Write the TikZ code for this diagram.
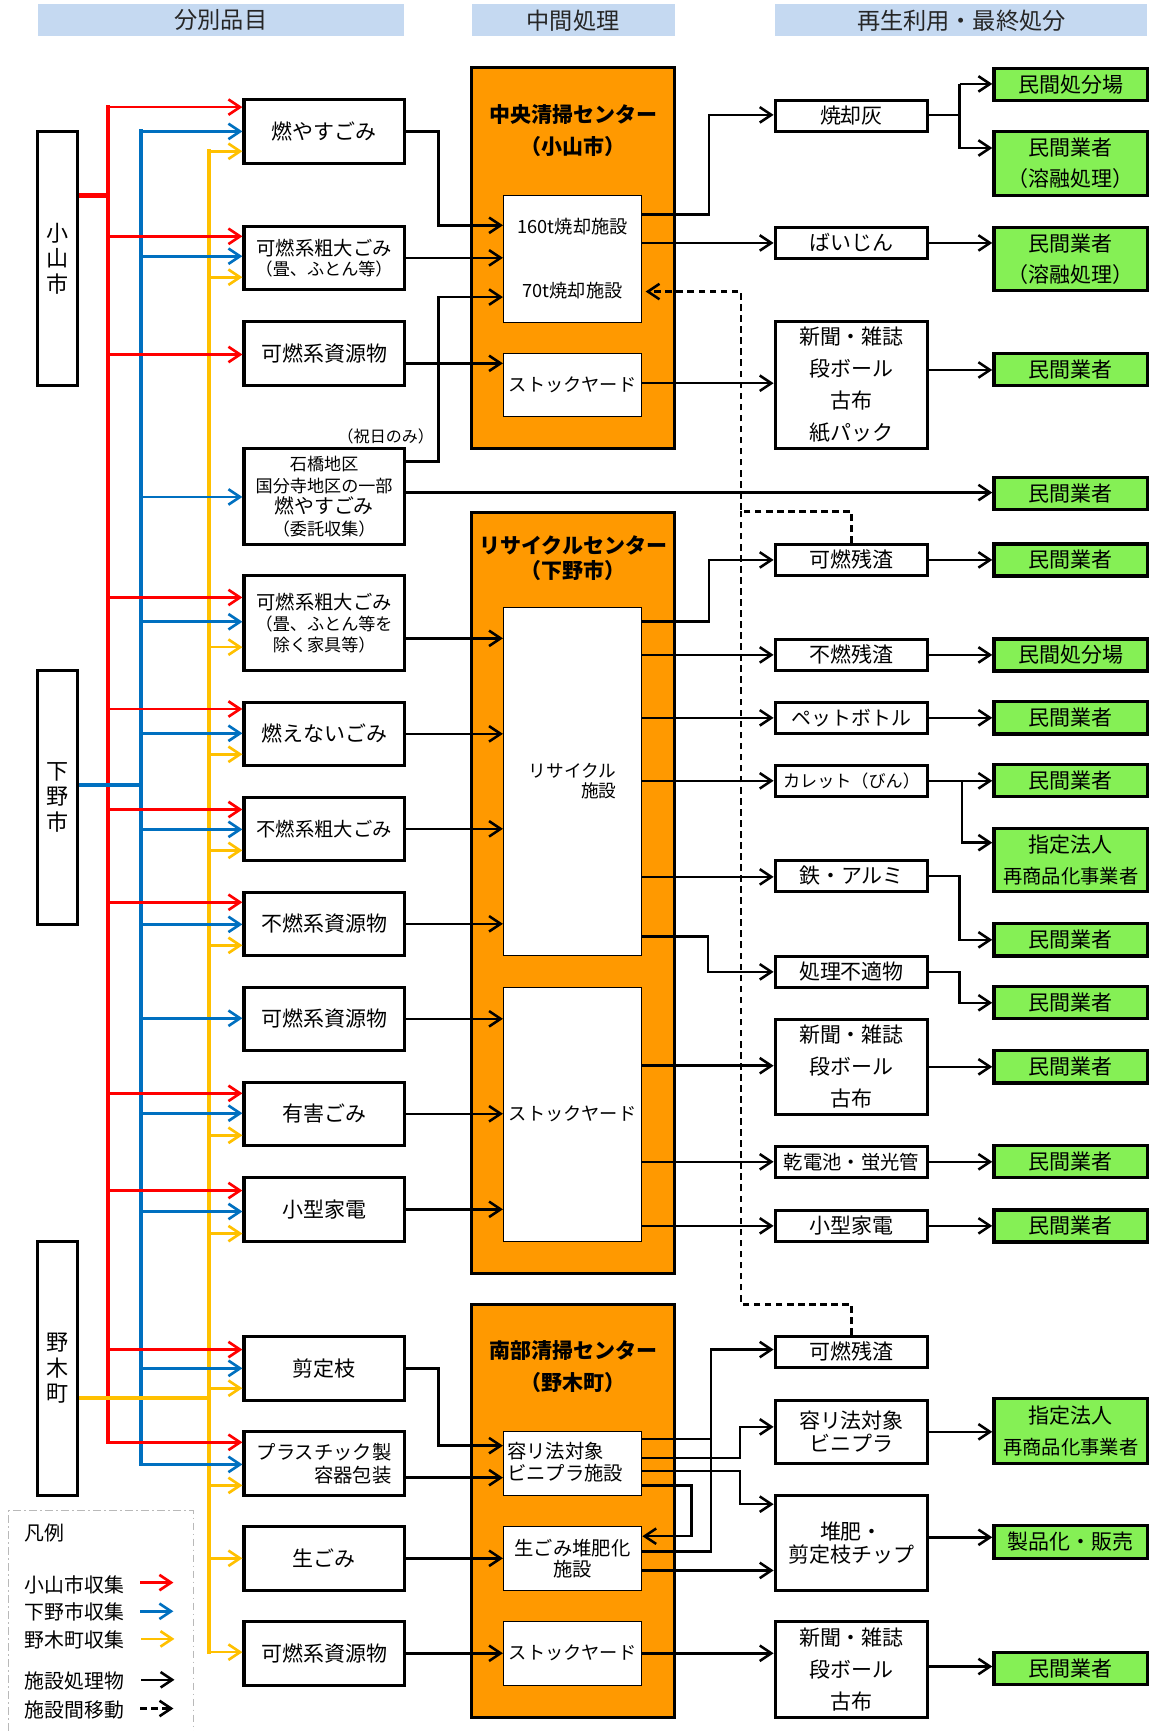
\documentclass[tikz,border=0pt]{standalone}
\usepackage{fontspec}
\setmainfont{Noto Sans CJK JP}
\usetikzlibrary{arrows.meta}
\definecolor{hdr}{RGB}{197,217,241}
\definecolor{org}{RGB}{255,153,0}
\definecolor{grn}{RGB}{133,240,85}
\definecolor{cred}{RGB}{255,0,0}
\definecolor{cblu}{RGB}{0,112,192}
\definecolor{cyel}{RGB}{255,192,0}
\newcommand\fsz[2]{\fontsize{#1}{#2}\selectfont}
\tikzset{
  hdrbox/.style={fill=hdr,minimum height=29,inner sep=0,font=\fsz{21}{24},text=black!85},
  city/.style={draw,line width=3,fill=white,minimum width=36,minimum height=230,inner sep=0,align=center,font=\fsz{20}{23}},
  item/.style={draw,line width=3,fill=white,minimum width=145,minimum height=58,inner sep=0,align=center,font=\fsz{19}{22}},
  orgbox/.style={draw,line width=3,fill=org,minimum width=184,inner sep=0},
  otitle/.style={align=center,inner sep=0,font=\bfseries\fsz{19}{29}},
  fac/.style={draw,line width=1.2,fill=white,minimum width=125,inner sep=0,align=center,font=\fsz{16.5}{20}},
  res/.style={draw,line width=3,fill=white,minimum width=138,minimum height=28,inner sep=0,align=center,font=\fsz{19}{29}},
  gbox/.style={draw,line width=3,fill=grn,minimum width=139,minimum height=29,inner sep=0,align=center,font=\fsz{19}{28}},
  atip/.style={-{Straight Barb[length=10.5pt,width=14pt]}},
  blk/.style={line width=2.3,atip},
  dsh/.style={line width=2.3,dash pattern=on 6pt off 4pt},
  rl/.style={line width=2.4,cred,atip},
  bl/.style={line width=2.4,cblu,atip},
  yl/.style={line width=2.4,cyel,atip},
  busline/.style={line width=3.6,line cap=rect},
  lab/.style={inner sep=0,font=\fsz{18}{20}},
}
\begin{document}
\begin{tikzpicture}[x=1pt,y=-1pt]
\useasboundingbox (0,0) rectangle (1044,1567.4);
% headers
\node[hdrbox,minimum width=332] (h1) at (200,18.5) {分別品目};
\node[hdrbox,minimum width=184] (h2) at (519,18.5) {中間処理};
\node[hdrbox,minimum width=337] (h3) at (870.5,18.5) {再生利用・最終処分};
% cities
\node[city] (c1) at (52,234) {小\\山\\市};
\node[city] (c2) at (52,722) {下\\野\\市};
\node[city] (c3) at (52,1239) {野\\木\\町};
% buses
\coordinate (rT) at (98,97);  \coordinate (rB) at (98,1306);
\coordinate (bT) at (128,119); \coordinate (bB) at (128,1326);
\coordinate (yT) at (189,137); \coordinate (yB) at (189,1496);
\draw[busline,cred] (rT) -- (rB);
\draw[busline,cblu] (bT) -- (bB);
\draw[busline,cyel] (yT) -- (yB);
\draw[line width=4,cred] (c1.east |- 0,177) -- (98,177);
\draw[line width=4,cblu] (c2.east |- 0,711) -- (128,711);
\draw[line width=4,cyel] (c3.east |- 0,1266) -- (189,1266);
% items
\node[item] (i1) at (293.5,119) {燃やすごみ};
\node[item,minimum height=57,font=\fsz{17.5}{18}] (i2) at (293.5,233.5) {可燃系粗大ごみ\\{\fsz{15.5}{18}（畳、ふとん等）}};
\node[item] (i3) at (293.5,320) {可燃系資源物};
\node[item,minimum height=87,font=\fsz{15.5}{19.5}] (i4) at (293.5,449.5) {石橋地区\\国分寺地区の一部\\{\fsz{18}{19.5}燃やすごみ}\\（委託収集）};
\node[inner sep=0,anchor=east,font=\fsz{14.5}{16}] (note) at (393,395) {（祝日のみ）};
\node[item,minimum height=86,font=\fsz{15.5}{19}] (i5) at (293.5,564) {{\fsz{17.5}{19}可燃系粗大ごみ}\\（畳、ふとん等を\\除く家具等）};
\node[item,minimum height=57] (i6) at (293.5,664.5) {燃えないごみ};
\node[item,minimum height=57,font=\fsz{17.5}{20}] (i7) at (293.5,750.5) {不燃系粗大ごみ};
\node[item,minimum height=57] (i8) at (293.5,836.5) {不燃系資源物};
\node[item,minimum height=57] (i9) at (293.5,922.5) {可燃系資源物};
\node[item,minimum height=57] (i10) at (293.5,1008.5) {有害ごみ};
\node[item] (i11) at (293.5,1095) {小型家電};
\node[item] (i12) at (293.5,1239) {剪定枝};
\node[item,align=right,font=\fsz{17.5}{21}] (i13) at (293.5,1325) {プラスチック製\\容器包装};
\node[item] (i14) at (293.5,1411) {生ごみ};
\node[item] (i15) at (293.5,1497) {可燃系資源物};
% colored arrows
\foreach \n/\y in {i1/97,i2/214,i3/321,i5/541,i6/642,i7/733,i8/817,i10/990,i11/1078,i12/1222,i13/1306}
  \draw[rl] (98,\y) -- (\n.west |- 0,\y);
\foreach \n/\y in {i1/119,i2/232,i4/450,i5/563,i6/664,i7/751,i8/837,i9/922,i10/1008,i11/1097,i12/1239,i13/1326}
  \draw[bl] (128,\y) -- (\n.west |- 0,\y);
\foreach \n/\y in {i1/137,i2/251,i5/586,i6/683,i7/770,i8/856,i10/1028,i11/1117,i12/1257,i13/1345,i14/1411,i15/1496}
  \draw[yl] (189,\y) -- (\n.west |- 0,\y);
% orange centres
\node[orgbox,minimum height=345] (o1) at (519,233.5) {};
\node[orgbox,minimum height=689] (o2) at (519,808.5) {};
\node[orgbox,minimum height=374] (o3) at (519,1368) {};
\node[otitle] (t1) at (519,118.5) {中央清掃センター\\（小山市）};
\node[otitle,font=\bfseries\fsz{19}{23}] (t2) at (519,505.5) {リサイクルセンター\\（下野市）};
\node[otitle] (t3) at (519,1237.5) {南部清掃センター\\（野木町）};
% facilities
\node[fac,minimum height=115,font=\fsz{16.5}{58}] (f1) at (518.5,234.5) {160t焼却施設\\70t焼却施設};
\node[fac,minimum height=57] (f2) at (518.5,348.5) {ストックヤード};
\node[fac,minimum height=315] (f3) at (518.5,707.5) {};
\node[inner sep=0,align=right,font=\fsz{16}{18}] (f3t) at (518.5,707.5) {リサイクル\\施設};
\node[fac,minimum height=230] (f4) at (518.5,1009) {ストックヤード};
\node[fac,minimum height=58] (f5) at (518.5,1325) {};
\node[inner sep=0,align=left,anchor=west,font=\fsz{17.5}{20}] (f5t) at (459,1324) {容リ法対象\\ビニプラ施設};
\node[fac,minimum height=58,font=\fsz{17.5}{19}] (f6) at (518.5,1411) {生ごみ堆肥化\\施設};
\node[fac,minimum height=58] (f7) at (518.5,1497) {ストックヤード};
% item -> facility
\draw[blk] (i1.east) -- (397,119) -- (397,204) -- (f1.west |- 0,204);
\draw[blk] (i2.east) -- (f1.west |- 0,233.5);
\draw[blk] (i3.east |- 0,329) -- (f2.west |- 0,329);
\draw[blk] (i4.east |- 0,418) -- (397,418) -- (397,269) -- (f1.west |- 0,269);
\draw[blk] (i5.east |- 0,578) -- (f3.west |- 0,578);
\draw[blk] (i6.east) -- (f3.west |- 0,664.5);
\draw[blk] (i7.east) -- (f3.west |- 0,750.5);
\draw[blk] (i8.east) -- (f3.west |- 0,836.5);
\draw[blk] (i9.east) -- (f4.west |- 0,922.5);
\draw[blk] (i10.east) -- (f4.west |- 0,1008.5);
\draw[blk] (i11.east) -- (f4.west |- 0,1095);
\draw[blk] (i12.east) -- (397,1239) -- (397,1309) -- (f5.west |- 0,1309);
\draw[blk] (i13.east |- 0,1338) -- (f5.west |- 0,1338);
\draw[blk] (i14.east) -- (f6.west |- 0,1411);
\draw[blk] (i15.east) -- (f7.west |- 0,1497);
% result boxes
\node[res] (r1) at (771,105) {焼却灰};
\node[res] (r2) at (771,220) {ばいじん};
\node[res,minimum height=115] (r3) at (771,348.5) {新聞・雑誌\\段ボール\\古布\\紙パック};
\node[res] (r4) at (771,507) {可燃残渣};
\node[res] (r5) at (771,593) {不燃残渣};
\node[res,font=\fsz{18}{20}] (r6) at (771,650) {ペットボトル};
\node[res,font=\fsz{15.5}{18}] (r7) at (771,707) {カレット（びん）};
\node[res] (r8) at (771,793) {鉄・アルミ};
\node[res] (r9) at (771,880) {処理不適物};
\node[res,minimum height=86] (r10) at (771,966) {新聞・雑誌\\段ボール\\古布};
\node[res,font=\fsz{17.5}{20}] (r11) at (771,1052) {乾電池・蛍光管};
\node[res] (r12) at (771,1110) {小型家電};
\node[res] (r13) at (771,1224) {可燃残渣};
\node[res,minimum height=57,font=\fsz{19}{21}] (r14) at (771,1296.5) {容リ法対象\\ビニプラ};
\node[res,minimum height=86,font=\fsz{19}{21}] (r15) at (771,1397) {堆肥・\\剪定枝チップ};
\node[res,minimum height=87] (r16) at (771,1511.5) {新聞・雑誌\\段ボール\\古布};
% green boxes
\node[gbox] (g1) at (969.5,76.5) {民間処分場};
\node[gbox,minimum height=58] (g2) at (969.5,148) {民間業者\\（溶融処理）};
\node[gbox,minimum height=57] (g3) at (969.5,234.5) {民間業者\\（溶融処理）};
\node[gbox] (g4) at (969.5,334.5) {民間業者};
\node[gbox] (g5) at (969.5,447) {民間業者};
\node[gbox] (g6) at (969.5,507) {民間業者};
\node[gbox] (g7) at (969.5,593) {民間処分場};
\node[gbox] (g8) at (969.5,650) {民間業者};
\node[gbox] (g9) at (969.5,707) {民間業者};
\node[gbox,minimum height=57] (g10) at (969.5,778.5) {指定法人\\{\fsz{17.5}{28}再商品化事業者}};
\node[gbox] (g11) at (969.5,851) {民間業者};
\node[gbox] (g12) at (969.5,908) {民間業者};
\node[gbox] (g13) at (969.5,966) {民間業者};
\node[gbox] (g14) at (969.5,1052) {民間業者};
\node[gbox] (g15) at (969.5,1110) {民間業者};
\node[gbox,minimum height=59] (g16) at (969.5,1295.5) {指定法人\\{\fsz{17.5}{28}再商品化事業者}};
\node[gbox,minimum height=30] (g17) at (969.5,1396) {製品化・販売};
\node[gbox] (g18) at (969.5,1511) {民間業者};
% i4 -> g5
\draw[blk] (i4.east |- 0,446) -- (g5.west |- 0,446);
% facility -> results
\draw[blk] (f1.east |- 0,194) -- (642,194) -- (642,104) -- (r1.west |- 0,104);
\draw[blk] (f1.east |- 0,220) -- (r2.west |- 0,220);
\draw[blk] (f2.east |- 0,347) -- (r3.west |- 0,347);
\draw[blk] (f3.east |- 0,563) -- (642,563) -- (642,507) -- (r4.west);
\draw[blk] (f3.east |- 0,593) -- (r5.west);
\draw[blk] (f3.east |- 0,650) -- (r6.west);
\draw[blk] (f3.east |- 0,707) -- (r7.west);
\draw[blk] (f3.east |- 0,794) -- (r8.west |- 0,794);
\draw[blk] (f3.east |- 0,848) -- (641,848) -- (641,880) -- (r9.west);
\draw[blk] (f4.east |- 0,965) -- (r10.west |- 0,965);
\draw[blk] (f4.east |- 0,1052) -- (r11.west);
\draw[blk] (f4.east |- 0,1110) -- (r12.west);
\draw[blk] (f5.east |- 0,1303) -- (644,1303) -- (644,1222) -- (r13.west |- 0,1222);
\draw[line width=2.3] (f6.east |- 0,1405) -- (644,1405) -- (644,1303);
\draw[blk] (f5.east |- 0,1320) -- (670,1320) -- (670,1292) -- (r14.west |- 0,1292);
\draw[blk] (f5.east |- 0,1332) -- (670,1332) -- (670,1362) -- (r15.west |- 0,1362);
\draw[blk] (f5.east |- 0,1345) -- (626,1345) -- (626,1391) -- (f6.east |- 0,1391);
\draw[blk] (f6.east |- 0,1422) -- (r15.west |- 0,1422);
\draw[blk] (f7.east |- 0,1497) -- (r16.west |- 0,1497);
% results -> green
\draw[line width=2.3] (r1.east |- 0,104) -- (869,104);
\draw[blk] (869,76) -- (g1.west |- 0,76);
\draw[blk] (869,76) -- (869,134) -- (g2.west |- 0,134);
\draw[blk] (r2.east) -- (g3.west |- 0,220);
\draw[blk] (r3.east |- 0,335) -- (g4.west |- 0,335);
\draw[blk] (r4.east) -- (g6.west);
\draw[blk] (r5.east) -- (g7.west);
\draw[blk] (r6.east) -- (g8.west);
\draw[blk] (r7.east) -- (g9.west);
\draw[blk] (871,707) -- (871,763) -- (g10.west |- 0,763);
\draw[blk] (r8.east) -- (869,793) -- (869,851) -- (g11.west);
\draw[blk] (r9.east) -- (869,880) -- (869,908) -- (g12.west);
\draw[blk] (r10.east) -- (g13.west);
\draw[blk] (r11.east) -- (g14.west);
\draw[blk] (r12.east) -- (g15.west);
\draw[blk] (r14.east) -- (g16.west |- 0,1296.5);
\draw[blk] (r15.east |- 0,1392) -- (g17.west |- 0,1392);
\draw[blk] (r16.east |- 0,1509) -- (g18.west |- 0,1509);
% dashed moves
\draw[dsh,atip] (r4.north) -- (771,463) -- (671,463) -- (671,264) -- ([xshift=3pt]f1.east |- 0,264);
\draw[dsh] (r13.north) -- (771,1181) -- (671,1181) -- (671,463);
% legend
\draw[gray!55,line width=1,dash pattern=on 7pt off 3pt on 1.5pt off 3pt] (8,1567.4) -- (8,1368) -- (175,1368) -- (175,1567.4);
\node[lab,anchor=west] (lg0) at (22,1388) {凡例};
\node[lab,anchor=west] (lg1) at (22,1435) {小山市収集};
\node[lab,anchor=west] (lg2) at (22,1460) {下野市収集};
\node[lab,anchor=west] (lg3) at (22,1485) {野木町収集};
\node[lab,anchor=west] (lg4) at (22,1522) {施設処理物};
\node[lab,anchor=west] (lg5) at (22,1548) {施設間移動};
\draw[rl] (127,1433) -- (157,1433);
\draw[bl] (127,1459) -- (157,1459);
\draw[yl] (128,1484) -- (158,1484);
\draw[blk] (128,1521) -- (158,1521);
\draw[line width=2.3,dash pattern=on 6pt off 4pt,atip] (127,1547) -- (157,1547);
\end{tikzpicture}
\end{document}
